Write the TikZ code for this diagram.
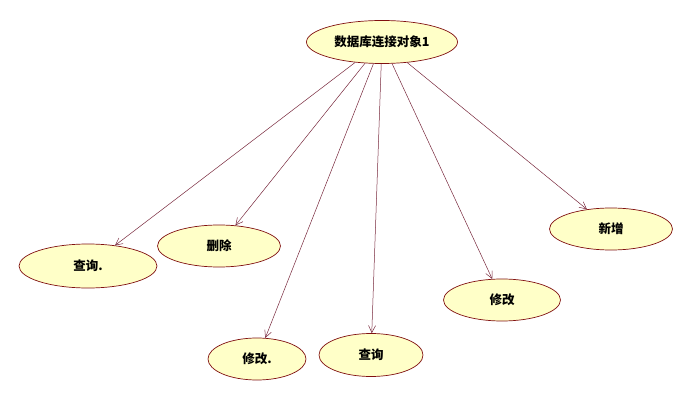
\documentclass[tikz,border=0pt]{standalone}
\usepackage{fontspec}
\usepackage{xcolor}
\usetikzlibrary{shapes.geometric,arrows.meta}
\newfontfamily\cjk{Noto Sans CJK SC}
\definecolor{casefill}{RGB}{255,255,200}
\definecolor{caseline}{RGB}{128,16,16}
\definecolor{linkline}{RGB}{120,40,60}

\begin{document}
\begin{tikzpicture}[
  x=1pt, y=-1pt,
  every node/.style={ellipse,draw=caseline,fill=casefill,inner sep=0pt,line width=0.7pt,
    font=\cjk\bfseries\fontsize{12.5}{14}\selectfont},
  link/.style={draw=linkline,line width=0.5pt,-{Straight Barb[length=7pt,width=7pt]}}
]
  \useasboundingbox (0,0) rectangle (694,401);
  \node[minimum width=151pt,minimum height=43pt] (conn) at (382,42) {数据库连接对象1};
  \node[minimum width=138pt,minimum height=44pt] (query1) at (88,266) {查询.};
  \node[minimum width=123pt,minimum height=42pt] (delete) at (219,246) {删除};
  \node[minimum width=98pt,minimum height=42pt] (modify1) at (257,359) {修改.};
  \node[minimum width=104pt,minimum height=43pt] (query2) at (371,355) {查询};
  \node[minimum width=117pt,minimum height=42pt] (modify2) at (502,300) {修改};
  \node[minimum width=123pt,minimum height=42pt] (add) at (611,229) {新增};

  \draw[link] (conn) -- (query1);
  \draw[link] (conn) -- (delete);
  \draw[link] (conn) -- (modify1);
  \draw[link] (conn) -- (query2);
  \draw[link] (conn) -- (modify2);
  \draw[link] (conn) -- (add);
\end{tikzpicture}
\end{document}
